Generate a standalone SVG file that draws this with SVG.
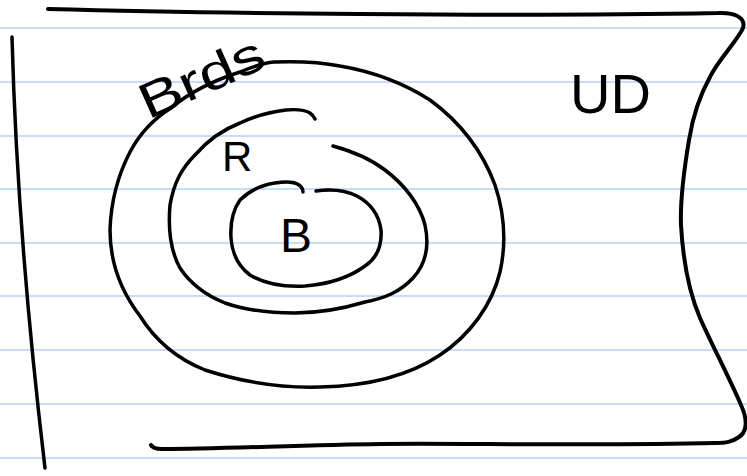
<svg xmlns="http://www.w3.org/2000/svg" width="747" height="476" viewBox="0 0 747 476">
<style>
.rule{stroke:#c8dcfa;stroke-width:2}
.ink{fill:none;stroke:#000;stroke-linecap:round;stroke-linejoin:round}
.lbl{font-family:"Liberation Sans","DejaVu Sans",sans-serif;fill:#000}
</style>
<rect width="747" height="476" fill="#fff"/>
<g id="paper">
<line class="rule" x1="0" y1="28" x2="747" y2="28"/>
<line class="rule" x1="0" y1="82" x2="747" y2="82"/>
<line class="rule" x1="0" y1="136" x2="747" y2="136"/>
<line class="rule" x1="0" y1="189" x2="747" y2="189"/>
<line class="rule" x1="0" y1="243" x2="747" y2="243"/>
<line class="rule" x1="0" y1="296" x2="747" y2="296"/>
<line class="rule" x1="0" y1="350" x2="747" y2="350"/>
<line class="rule" x1="0" y1="404" x2="747" y2="404"/>
<line class="rule" x1="0" y1="458" x2="747" y2="458"/>
</g>
<g id="UD">
<path class="ink" stroke-width="4" d="M48,9 C200,13 500,17 718,13 C735,12 746,18 743,28 C738,40 718,60 710,77 C700,95 693,115 689,140 C684,170 680,200 681,225 C683,260 688,290 700,318 C712,345 728,375 741,405 C748,420 747,432 739,437 C732,442 726,443 715,443 C600,446 450,443 381,444 C300,445 220,449 162,449 C156,449 152,447 151,445"/>
<path class="ink" stroke-width="3.5" d="M12,37 C15,150 25,300 45,468"/>
<text class="lbl" x="570" y="113" font-size="56">UD</text>
</g>
<g id="Birds">
<path class="ink" stroke-width="3.5" d="M274,62 C300,61 320,62 340,66 C375,72 405,84 430,100 C460,122 482,150 495,185 C505,215 506,245 500,272 C492,305 470,335 440,355 C410,375 370,386 320,387 C285,388 245,383 205,370 C175,358 155,340 140,316 C120,290 110,260 110,230 C111,200 118,175 130,152 C140,133 155,118 171,108 C190,92 215,80 240,72 C252,67 263,63 274,62"/>
<text class="lbl" font-size="50" transform="translate(148,120) rotate(-24)" textLength="132" lengthAdjust="spacingAndGlyphs">Brds</text>
</g>
<g id="R">
<path class="ink" stroke-width="3.5" d="M333,146 C355,152 372,160 385,170 C405,185 420,205 425,225 C430,248 425,265 413,278 C400,292 385,298 365,302 C345,308 320,313 295,313 C270,313 245,310 225,303 C205,295 190,283 180,268 C170,250 168,228 170,205 C174,182 182,168 195,155 C208,140 222,130 240,123 C255,116 270,112 286,110 C297,109 305,110 310,113 C313,115 314,117 315,119"/>
<text class="lbl" x="222" y="171" font-size="42">R</text>
</g>
<g id="B">
<path class="ink" stroke-width="3.5" d="M316,191 C330,189 345,190 357,196 C370,203 379,215 381,230 C382,245 377,258 365,266 C350,277 330,284 305,286 C285,287 265,284 250,275 C238,266 232,252 231,238 C230,222 233,210 240,200 C250,190 262,185 275,183 C288,181 295,182 299,185 C302,187 303,190 303,192"/>
<text class="lbl" x="280" y="252" font-size="48">B</text>
</g>
<g id="connectors"></g>
</svg>
